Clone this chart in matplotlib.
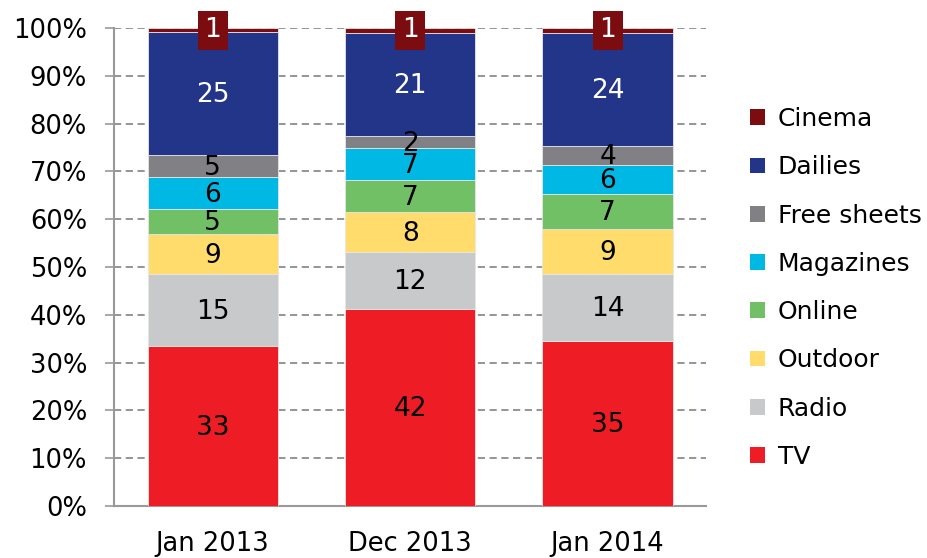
import matplotlib.pyplot as plt
import numpy as np
from matplotlib.patches import Patch

periods = ['Jan 2013', 'Dec 2013', 'Jan 2014']
media = ['TV', 'Radio', 'Outdoor', 'Online', 'Magazines', 'Free sheets', 'Dailies', 'Cinema']

# shares in %, bottom to top
tv = [33.4, 41.3, 34.6]
radio = [15.1, 11.8, 13.9]
outdoor = [8.3, 8.3, 9.5]
online = [5.4, 6.7, 7.2]
magazines = [6.7, 6.7, 6.2]
free_sheets = [4.6, 2.6, 3.9]
dailies = [25.6, 21.6, 23.7]
cinema = [0.9, 1.0, 1.0]

# labels as printed on the chart
lab_tv = [33, 42, 35]
lab_radio = [15, 12, 14]
lab_outdoor = [9, 8, 9]
lab_online = [5, 7, 7]
lab_magazines = [6, 7, 6]
lab_free = [5, 2, 4]
lab_dailies = [25, 21, 24]
lab_cinema = [1, 1, 1]

series = [tv, radio, outdoor, online, magazines, free_sheets, dailies, cinema]
labels = [lab_tv, lab_radio, lab_outdoor, lab_online, lab_magazines, lab_free, lab_dailies, lab_cinema]
colors = ['#ee1c25', '#c8c9cb', '#ffdc6c', '#72c066', '#00b8e4', '#808085', '#223589', '#7b0c10']
txtcol = ['black', 'black', 'black', 'black', 'black', 'black', 'white', 'white']

fig = plt.figure(figsize=(9.27, 5.58), dpi=100)
ax = fig.add_axes([0.123, 0.093, 0.639, 0.857])

x = np.arange(len(periods))
bottom = np.zeros(len(periods))
for vals, labs, c, tc in zip(series, labels, colors, txtcol):
    vals = np.array(vals)
    ax.bar(x, vals, 0.66, bottom=bottom, color=c, edgecolor='#e6e6e6', linewidth=0.6, zorder=3)
    if c != '#7b0c10':
        for xi, b, v, l in zip(x, bottom, vals, labs):
            ax.text(xi, b + v / 2 - 0.4, str(l), ha='center', va='center', fontsize=19, color=tc, zorder=4)
    else:
        for xi, l in zip(x, labs):
            ax.text(xi, 99.5, str(l), ha='center', va='center', fontsize=19, color='white', zorder=5,
                    bbox=dict(boxstyle='square,pad=0.25', facecolor=c, edgecolor='none'))
    bottom += vals

ax.set_xlim(-0.5, 2.5)
ax.set_ylim(0, 100)
ax.set_yticks(np.arange(0, 101, 10))
ax.set_yticklabels([f'{v}%' for v in range(0, 101, 10)])
ax.set_xticks(x)
ax.set_xticklabels(periods)
ax.tick_params(axis='y', labelsize=18.5, length=6.5, width=1.2, color='#999999', pad=13)
ax.tick_params(axis='x', labelsize=18.5, length=0, pad=18)
ax.yaxis.grid(True, linestyle=(0, (4, 2.5)), color='#8c8c8c', linewidth=1.3, zorder=0)
for s in ['top', 'right']:
    ax.spines[s].set_visible(False)
for s in ['left', 'bottom']:
    ax.spines[s].set_color('#999999')
    ax.spines[s].set_linewidth(1.5)

handles = [Patch(facecolor=c, edgecolor='none') for c in colors][::-1]
fig.legend(handles, media[::-1], loc='center left', bbox_to_anchor=(0.785, 0.484), frameon=False,
           fontsize=18, handlelength=0.6, handleheight=0.6, handletextpad=0.5, labelspacing=0.97)

fig.savefig('out.png', dpi=100)
